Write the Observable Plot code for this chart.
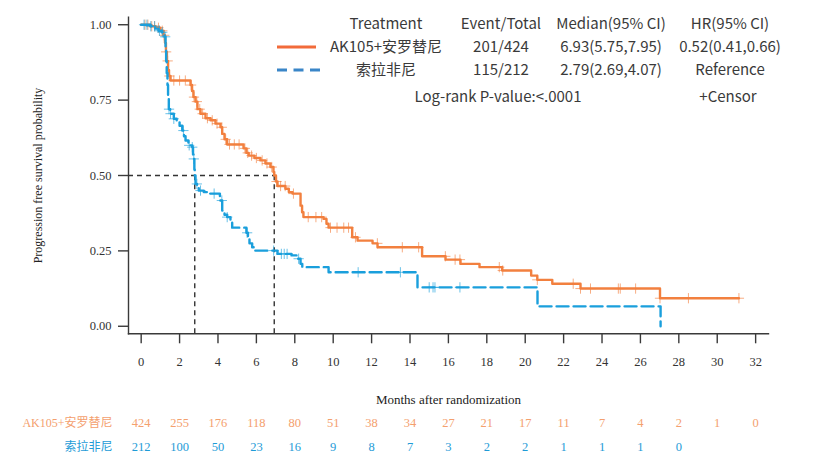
<!DOCTYPE html>
<html>
<head>
<meta charset="utf-8">
<script src="https://cdn.jsdelivr.net/npm/d3@7"></script>
<script src="https://cdn.jsdelivr.net/npm/@observablehq/plot@0.6"></script>
<style>
  body { margin: 0; background: #fff; }
  #chart { width: 814px; height: 473px; }
</style>
</head>
<body>
<div id="chart"></div>
<script>
// Treatment arms
const groups = ["AK105+安罗替尼", "索拉非尼"];
const curveColors = ["#F2803F", "#1A9FDC"];
const legendColors = ["#F26B3A", "#3A86C8"];
const riskColors = ["#F4A06E", "#1E9BD7"];

// Kaplan-Meier steps: [months, survival after the step]
const akSteps = [
  [0, 1], [0.48, 0.995], [0.75, 0.99], [1.0, 0.98], [1.16, 0.965], [1.24, 0.94],
  [1.29, 0.91], [1.34, 0.88], [1.40, 0.85], [1.45, 0.83], [1.53, 0.815],
  [2.57, 0.80], [2.65, 0.78], [2.72, 0.76], [2.83, 0.745], [2.93, 0.72],
  [3.09, 0.705], [3.35, 0.69], [3.61, 0.683], [3.87, 0.672], [4.13, 0.66],
  [4.22, 0.638], [4.34, 0.62], [4.48, 0.603], [5.33, 0.59], [5.48, 0.575],
  [5.60, 0.566], [5.90, 0.558], [6.21, 0.55], [6.47, 0.54], [6.73, 0.528],
  [6.89, 0.512], [6.93, 0.50], [7.02, 0.48], [7.10, 0.465], [7.51, 0.456],
  [7.69, 0.445], [7.88, 0.44], [8.30, 0.40], [8.38, 0.378], [8.45, 0.362],
  [9.50, 0.356], [9.65, 0.34], [9.76, 0.327], [10.99, 0.295], [11.27, 0.284],
  [12.05, 0.275], [12.31, 0.262], [14.63, 0.232], [15.85, 0.221], [16.63, 0.207],
  [17.62, 0.196], [18.80, 0.185], [20.31, 0.168], [20.63, 0.154], [21.41, 0.141],
  [22.88, 0.125], [27.02, 0.093], [31.13, 0.093]
];
const sorSteps = [
  [0, 1], [0.48, 0.995], [0.73, 0.987], [0.9, 0.98], [1.07, 0.975], [1.21, 0.96],
  [1.27, 0.92], [1.30, 0.88], [1.33, 0.84], [1.37, 0.80], [1.40, 0.76], [1.44, 0.72],
  [1.51, 0.705], [1.70, 0.688], [1.85, 0.683], [2.0, 0.665], [2.14, 0.649],
  [2.23, 0.63], [2.31, 0.616], [2.46, 0.60], [2.66, 0.594], [2.70, 0.57],
  [2.74, 0.555], [2.77, 0.52], [2.79, 0.50], [2.83, 0.472], [2.91, 0.46],
  [3.0, 0.45], [3.26, 0.445], [3.45, 0.44], [4.1, 0.417], [4.22, 0.384],
  [4.34, 0.37], [4.48, 0.362], [4.65, 0.345], [4.74, 0.327], [5.48, 0.31],
  [5.56, 0.29], [5.64, 0.275], [5.78, 0.262], [5.86, 0.251], [7.1, 0.24],
  [7.83, 0.235], [8.13, 0.224], [8.3, 0.207], [8.39, 0.196], [9.76, 0.179],
  [14.39, 0.129], [20.64, 0.066], [27.05, 0]
];

// Censoring times (months)
const akCensor = [0.2, 0.35, 0.55, 0.7, 0.9, 1.1, 1.2, 1.3, 1.38, 1.47, 1.7, 2.0, 2.3,
  2.6, 2.75, 2.9, 3.05, 3.2, 3.45, 3.7, 3.95, 4.2, 4.4, 4.6, 4.85, 5.1, 5.4, 5.55, 5.75,
  6.0, 6.3, 6.55, 6.8, 7.05, 7.26, 7.5, 7.93, 8.7, 9.1, 9.4, 9.86, 10.2, 10.55, 10.8,
  11.16, 12.3, 13.6, 14.45, 15.84, 16.35, 16.6, 18.65, 18.83, 20.63, 22.5, 22.88, 23.4,
  24.85, 24.95, 25.75, 27.02, 28.5, 31.13];
const sorCensor = [0.15, 0.3, 0.5, 0.7, 0.95, 1.1, 1.25, 1.45, 1.53, 1.7, 2.2, 2.5,
  2.66, 2.74, 2.9, 3.09, 3.8, 4.2, 4.48, 5.52, 6.9, 7.3, 7.45, 7.6, 8.2, 11.3, 13.5,
  15.0, 15.2, 15.3, 16.6];

// Number at risk
const riskTimes = [0, 2, 4, 6, 8, 10, 12, 14, 16, 18, 20, 22, 24, 26, 28, 30, 32];
const akRisk = [424, 255, 176, 118, 80, 51, 38, 34, 27, 21, 17, 11, 7, 4, 2, 1, 0];
const sorRisk = [212, 100, 50, 23, 16, 9, 8, 7, 3, 2, 2, 1, 1, 1, 0];

// Summary table
const legendHeaders = ["Treatment", "Event/Total", "Median(95% CI)", "HR(95% CI)"];
const eventTotal = ["201/424", "115/212"];
const medians = [6.93, 2.79];
const medianCI = ["(5.75,7.95)", "(2.69,4.07)"];
const hazard = ["0.52(0.41,0.66)", "Reference"];
const pText = "Log-rank P-value:<.0001";
const censorText = "+Censor";

const xTicks = [0, 2, 4, 6, 8, 10, 12, 14, 16, 18, 20, 22, 24, 26, 28, 30, 32];
const yTicks = [0, 0.25, 0.5, 0.75, 1];
const xDomain = [-0.66, 32.67];
const yDomain = [-0.025, 1.025];

// Build tidy rows
const curveRows = [akSteps, sorSteps].flatMap((steps, g) =>
  steps.map(([t, s]) => ({group: groups[g], t, s})));
function survivalAt(steps, t) {
  const i = d3.bisectRight(steps.map(d => d[0]), t) - 1;
  return steps[Math.max(0, i)][1];
}
const censorRows = [[akCensor, akSteps], [sorCensor, sorSteps]].flatMap(([ts, steps], g) =>
  ts.map(t => ({group: groups[g], t, s: survivalAt(steps, t)})));
const riskRows = [akRisk, sorRisk].flatMap((arr, g) =>
  arr.map((n, i) => ({group: groups[g], g, t: riskTimes[i], n})));

const serif = "Liberation Serif, Times New Roman, serif";
const sans = "Noto Sans CJK SC, Noto Sans, sans-serif";

const chart = Plot.plot({
  width: 814,
  height: 473,
  marginLeft: 128,
  marginRight: 46,
  marginTop: 16.7,
  marginBottom: 139.7,
  style: {fontFamily: serif, fontSize: "12.5px", color: "#333", background: "#fff"},
  x: {domain: xDomain},
  y: {domain: yDomain},
  marks: [
    Plot.frame({anchor: "left", stroke: "#3a3a3a", strokeWidth: 1.4}),
    Plot.frame({anchor: "bottom", stroke: "#3a3a3a", strokeWidth: 1.4}),
    Plot.axisY({ticks: yTicks, tickFormat: d3.format(".2f"), tickSize: 10, tickPadding: 7,
      label: null, stroke: "#3a3a3a", strokeWidth: 1.4, fontFamily: serif, fontSize: 12.5}),
    Plot.axisX({ticks: xTicks, tickSize: 10, tickPadding: 13, label: null,
      stroke: "#3a3a3a", strokeWidth: 1.4, fontFamily: serif, fontSize: 12.5}),
    // median guide lines
    Plot.ruleY([0.5], {x1: xDomain[0], x2: medians[0], stroke: "#333",
      strokeWidth: 1.4, strokeDasharray: "5,4"}),
    Plot.ruleX(medians, {y1: yDomain[0], y2: 0.5, stroke: "#333",
      strokeWidth: 1.4, strokeDasharray: "5,4"}),
    // survival curves
    Plot.line(curveRows.filter(d => d.group === groups[0]), {x: "t", y: "s",
      curve: "step-after", stroke: curveColors[0], strokeWidth: 2.4}),
    Plot.dot(censorRows.filter(d => d.group === groups[0]), {x: "t", y: "s",
      symbol: "plus", r: 3.4, stroke: curveColors[0], strokeWidth: 1, strokeOpacity: 0.65}),
    Plot.line(curveRows.filter(d => d.group === groups[1]), {x: "t", y: "s",
      curve: "step-after", stroke: curveColors[1], strokeWidth: 2.4, strokeDasharray: "12,5"}),
    Plot.dot(censorRows.filter(d => d.group === groups[1]), {x: "t", y: "s",
      symbol: "plus", r: 3.4, stroke: curveColors[1], strokeWidth: 1, strokeOpacity: 0.65}),
    // axis titles
    Plot.text(["Progression free survival probability"], {frameAnchor: "left", dx: -90,
      rotate: -90, textAnchor: "middle", fontSize: 12, fill: "#222", fontFamily: serif}),
    Plot.text(["Months after randomization"], {frameAnchor: "bottom", dy: 70,
      fontSize: 13, fill: "#222", fontFamily: serif}),
    // number at risk
    Plot.text(riskRows.filter(d => d.g === 0), {x: "t", text: "n", frameAnchor: "bottom",
      dy: 93, fill: riskColors[0], fontSize: 12.5, fontFamily: serif}),
    Plot.text(riskRows.filter(d => d.g === 1), {x: "t", text: "n", frameAnchor: "bottom",
      dy: 117, fill: riskColors[1], fontSize: 12.5, fontFamily: serif}),
    Plot.text([groups[0]], {frameAnchor: "bottom-left", dx: -16, dy: 93, textAnchor: "end",
      fill: riskColors[0], fontSize: 12, fontFamily: serif + ", Noto Sans CJK SC"}),
    Plot.text([groups[1]], {frameAnchor: "bottom-left", dx: -16, dy: 117, textAnchor: "end",
      fill: riskColors[1], fontSize: 12, fontFamily: serif + ", Noto Sans CJK SC"})
  ]
});

// Summary legend in the upper right
const svg = d3.select(chart);
const leg = svg.append("g")
  .attr("font-family", sans)
  .attr("font-size", 15)
  .attr("fill", "#3a3a3a")
  .attr("text-anchor", "middle");
const colX = [386, 501, 611, 730];
const rowY = [24, 47, 70];
legendHeaders.forEach((h, i) =>
  leg.append("text").attr("x", colX[i]).attr("y", rowY[0]).attr("dy", "0.35em").text(h));
groups.forEach((g, k) => {
  const y = rowY[k + 1];
  leg.append("line").attr("x1", 277).attr("x2", k === 0 ? 316 : 320)
    .attr("y1", y).attr("y2", y)
    .attr("stroke", legendColors[k]).attr("stroke-width", 3)
    .attr("stroke-dasharray", k === 0 ? null : "10,6.5");
  const cells = [g, eventTotal[k], medians[k].toFixed(2) + medianCI[k], hazard[k]];
  cells.forEach((c, i) =>
    leg.append("text").attr("x", colX[i]).attr("y", y).attr("dy", "0.35em").text(c));
});
leg.append("text").attr("x", 498).attr("y", 97).attr("dy", "0.35em").text(pText);
leg.append("text").attr("x", 728).attr("y", 97).attr("dy", "0.35em").text(censorText);

document.getElementById("chart").appendChild(chart);
</script>
</body>
</html>
